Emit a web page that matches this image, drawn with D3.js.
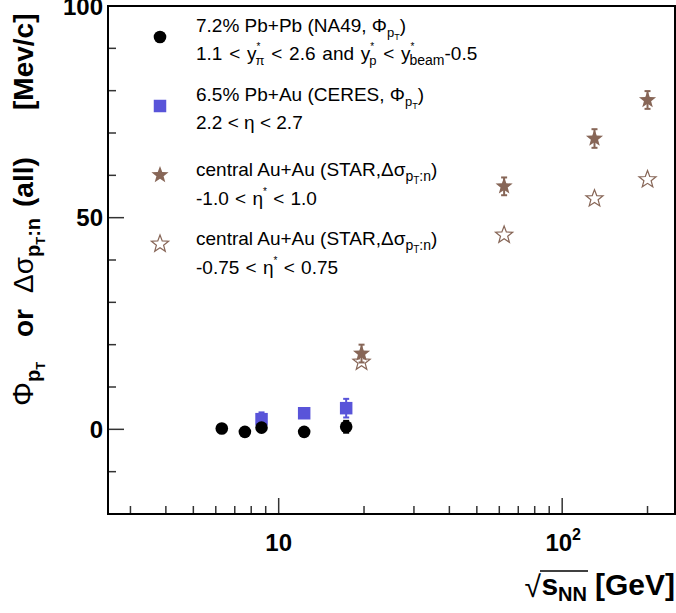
<!DOCTYPE html>
<html><head><meta charset="utf-8">
<script src="https://cdn.jsdelivr.net/npm/d3@7"></script>
<style>
html,body{margin:0;padding:0;background:#fff;}
svg{display:block;}
text{font-family:"Liberation Sans",Arial,Helvetica,sans-serif;}
</style></head>
<body>
<script>
// ---- data ----
const na49Energy = [6.3, 7.6, 8.7, 12.3, 17.3];
const na49Phi    = [0.2, -0.6, 0.4, -0.6, 0.6];
const na49Err    = [0.6, 0.6, 0.8, 0.6, 1.4];

const ceresEnergy = [8.7, 12.3, 17.3];
const ceresPhi    = [2.4, 3.8, 5.0];
const ceresErr    = [1.6, 0.8, 2.2];

const starEnergy = [19.6, 62.4, 130, 200];
const starDsig   = [17.9, 57.4, 68.7, 77.8];
const starErr    = [2.1, 2.1, 2.2, 2.1];

const star2Energy = [19.6, 62.4, 130, 200];
const star2Dsig   = [15.9, 45.9, 54.5, 59.0];

const yMajorTicks = [0, 50, 100];
const yMinorTicks = [-10, 10, 20, 30, 40, 60, 70, 80, 90];
const xMajorTicks = [10, 100];
const xMinorTicks = [3, 4, 5, 6, 7, 8, 9, 20, 30, 40, 50, 60, 70, 80, 90, 200];

const W = 676, H = 613;
const blue = "#5954d9", brown = "#876657";

const svg = d3.select("body").append("svg").attr("width", W).attr("height", H);

const x = d3.scaleLog().domain([2.5, 250]).range([108, 675]);
const y = d3.scaleLinear().domain([-20, 100]).range([514, 6]);

// star symbol
const starType = {
  draw(ctx, size) {
    const R = Math.sqrt(size), r = R * 0.42;
    for (let i = 0; i < 10; i++) {
      const a = -Math.PI / 2 + i * Math.PI / 5;
      const rr = i % 2 === 0 ? R : r;
      const px = rr * Math.cos(a), py = rr * Math.sin(a);
      if (i === 0) ctx.moveTo(px, py); else ctx.lineTo(px, py);
    }
    ctx.closePath();
  }
};
const starPath = d3.symbol().type(starType).size(9 * 9)();
const squarePath = d3.symbol().type(d3.symbolSquare).size(12.5 * 12.5)();

// ---- ticks ----
const tk = svg.append("g").attr("stroke", "#333").attr("stroke-width", 1.5);
tk.selectAll(".ymaj").data(yMajorTicks).join("line")
  .attr("x1", 108).attr("x2", 124).attr("y1", d => y(d)).attr("y2", d => y(d));
tk.selectAll(".ymin").data(yMinorTicks).join("line")
  .attr("x1", 108).attr("x2", 116).attr("y1", d => y(d)).attr("y2", d => y(d));
tk.selectAll(".xmaj").data(xMajorTicks).join("line")
  .attr("y1", 514).attr("y2", 498).attr("x1", d => x(d)).attr("x2", d => x(d));
tk.selectAll(".xmin").data(xMinorTicks).join("line")
  .attr("y1", 514).attr("y2", 506).attr("x1", d => x(d)).attr("x2", d => x(d));

// frame
svg.append("rect").attr("x", 108).attr("y", 6).attr("width", 567).attr("height", 508)
  .attr("fill", "none").attr("stroke", "#000").attr("stroke-width", 2);

// y tick labels
svg.selectAll(".ylab").data(yMajorTicks).join("text")
  .attr("x", 103).attr("y", d => y(d)).attr("dy", "0.36em")
  .attr("text-anchor", "end").attr("font-weight", "bold").attr("font-size", 24)
  .text(d => d);

// x tick labels
svg.append("text").attr("x", x(10)).attr("y", 551).attr("text-anchor", "middle")
  .attr("font-weight", "bold").attr("font-size", 24).text("10");
const xl2 = svg.append("text").attr("x", x(100) + 1).attr("y", 551).attr("text-anchor", "middle")
  .attr("font-weight", "bold").attr("font-size", 24);
xl2.append("tspan").text("10");
xl2.append("tspan").attr("dy", -11).attr("font-size", 16).text("2");

// x title
svg.append("text").attr("x", 675).attr("y", 595).attr("text-anchor", "end")
  .attr("font-weight", "bold").attr("font-size", 30).text("[GeV]");
const st = svg.append("text").attr("x", 587).attr("y", 595).attr("text-anchor", "end")
  .attr("font-weight", "bold").attr("font-size", 30);
st.append("tspan").text("s");
st.append("tspan").attr("dy", 6).attr("font-size", 20).text("NN");
svg.append("text").attr("x", 541).attr("y", 597).attr("text-anchor", "end")
  .attr("font-size", 30).attr("font-family", "DejaVu Sans").attr("font-weight", "normal").text("\u221A");
svg.append("line").attr("x1", 540).attr("x2", 588).attr("y1", 571).attr("y2", 571)
  .attr("stroke", "#000").attr("stroke-width", 1.5);

// y title (rotated)
function yPiece(pos) {
  return svg.append("text").attr("transform", `translate(33,${pos}) rotate(-90)`)
    .attr("font-size", 28).attr("font-weight", "bold");
}
let t = yPiece(406);
t.append("tspan").attr("font-weight", "normal").attr("font-size", 30).text("\u03A6");
t.append("tspan").attr("dy", 7).attr("font-size", 20).text("p");
t.append("tspan").attr("dy", 5).attr("font-size", 13).text("T");
yPiece(337).text("or");
t = yPiece(293);
t.append("tspan").attr("font-weight", "normal").text("\u0394\u03C3");
t.append("tspan").attr("dy", 7).attr("font-size", 20).text("p");
t.append("tspan").attr("dy", 5).attr("font-size", 13).text("T");
t.append("tspan").attr("dy", -5).attr("font-size", 20).text(":n");
yPiece(207).text("(all)");
yPiece(110).text("[Mev/c]");

// ---- data marks ----
function errBars(g, xs, ys, es, color, w) {
  const d = xs.map((v, i) => ({ x: v, y: ys[i], e: es[i] }));
  g.selectAll(".eb").data(d).join("line").attr("stroke", color).attr("stroke-width", w)
    .attr("x1", d => x(d.x)).attr("x2", d => x(d.x))
    .attr("y1", d => y(d.y - d.e)).attr("y2", d => y(d.y + d.e));
  g.selectAll(".cap1").data(d).join("line").attr("stroke", color).attr("stroke-width", w)
    .attr("x1", d => x(d.x) - 3).attr("x2", d => x(d.x) + 3)
    .attr("y1", d => y(d.y + d.e)).attr("y2", d => y(d.y + d.e));
  g.selectAll(".cap2").data(d).join("line").attr("stroke", color).attr("stroke-width", w)
    .attr("x1", d => x(d.x) - 3).attr("x2", d => x(d.x) + 3)
    .attr("y1", d => y(d.y - d.e)).attr("y2", d => y(d.y - d.e));
}

// CERES squares
const gC = svg.append("g");
errBars(gC, ceresEnergy, ceresPhi, ceresErr, blue, 2);
gC.selectAll("path").data(ceresEnergy).join("path").attr("d", squarePath)
  .attr("transform", (d, i) => `translate(${x(d)},${y(ceresPhi[i])})`).attr("fill", blue);

// NA49 circles
const gN = svg.append("g");
errBars(gN, na49Energy, na49Phi, na49Err, "#000", 2);
gN.selectAll("circle").data(na49Energy).join("circle")
  .attr("cx", d => x(d)).attr("cy", (d, i) => y(na49Phi[i])).attr("r", 6.3).attr("fill", "#000");

// STAR filled stars
const gS = svg.append("g");
errBars(gS, starEnergy, starDsig, starErr, brown, 2);
gS.selectAll("path.st").data(starEnergy).join("path").attr("class", "st").attr("d", starPath)
  .attr("transform", (d, i) => `translate(${x(d)},${y(starDsig[i])})`).attr("fill", brown);

// STAR open stars
const gS2 = svg.append("g");
gS2.selectAll("path").data(star2Energy).join("path").attr("d", starPath)
  .attr("transform", (d, i) => `translate(${x(d)},${y(star2Dsig[i])})`)
  .attr("fill", "none").attr("stroke", brown).attr("stroke-width", 1.2);

// ---- legend ----
const lg = svg.append("g").attr("font-size", 19);
lg.append("circle").attr("cx", 160).attr("cy", 37).attr("r", 6.3).attr("fill", "#000");
lg.append("path").attr("d", squarePath).attr("transform", "translate(160,106)").attr("fill", blue);
lg.append("path").attr("d", starPath).attr("transform", "translate(160,175)").attr("fill", brown);
lg.append("path").attr("d", starPath).attr("transform", "translate(160,244)")
  .attr("fill", "none").attr("stroke", brown).attr("stroke-width", 1.2);

const LX = 196;
let l = lg.append("text").attr("x", LX).attr("y", 32);
l.append("tspan").text("7.2% Pb+Pb (NA49, ");
l.append("tspan").text("\u03A6");
l.append("tspan").attr("dy", 5).attr("font-size", 13).text("p");
l.append("tspan").attr("dy", 3).attr("font-size", 9).text("T");
l.append("tspan").attr("dy", -8).text(")");

l = lg.append("text").attr("x", LX).attr("y", 60).attr("word-spacing", 1.5);
l.append("tspan").text("1.1 < y");
l.append("tspan").attr("dy", -10).attr("font-size", 10).text("*");
l.append("tspan").attr("dx", -5).attr("dy", 15).attr("font-size", 13).text("\u03C0");
l.append("tspan").attr("dy", -5).text(" < 2.6 and y");
l.append("tspan").attr("dy", -10).attr("font-size", 10).text("*");
l.append("tspan").attr("dx", -5).attr("dy", 15).attr("font-size", 13).text("p");
l.append("tspan").attr("dy", -5).text(" < y");
l.append("tspan").attr("dy", -10).attr("font-size", 10).text("*");
l.append("tspan").attr("dx", -5).attr("dy", 15).attr("font-size", 14).text("beam");
l.append("tspan").attr("dy", -5).text("-0.5");

l = lg.append("text").attr("x", LX).attr("y", 101);
l.append("tspan").text("6.5% Pb+Au (CERES, ");
l.append("tspan").text("\u03A6");
l.append("tspan").attr("dy", 5).attr("font-size", 13).text("p");
l.append("tspan").attr("dy", 3).attr("font-size", 9).text("T");
l.append("tspan").attr("dy", -8).text(")");

lg.append("text").attr("x", LX).attr("y", 129).text("2.2 < \u03B7 < 2.7");

function starLine(yy) {
  const s = lg.append("text").attr("x", LX).attr("y", yy);
  s.append("tspan").text("central Au+Au (STAR,\u0394\u03C3");
  s.append("tspan").attr("dy", 5).attr("font-size", 14).text("p");
  s.append("tspan").attr("dy", 3).attr("font-size", 10).text("T");
  s.append("tspan").attr("dy", -3).attr("font-size", 14).text(":n");
  s.append("tspan").attr("dy", -5).text(")");
}
function etaLine(yy, a, b) {
  const s = lg.append("text").attr("x", LX).attr("y", yy).attr("word-spacing", 1);
  s.append("tspan").text(a + " < \u03B7");
  s.append("tspan").attr("dy", -10).attr("font-size", 10).text("*");
  s.append("tspan").attr("dy", 10).text(" < " + b);
}
starLine(176);
etaLine(205, "-1.0", "1.0");
starLine(245);
etaLine(274, "-0.75", "0.75");
</script>
</body></html>
